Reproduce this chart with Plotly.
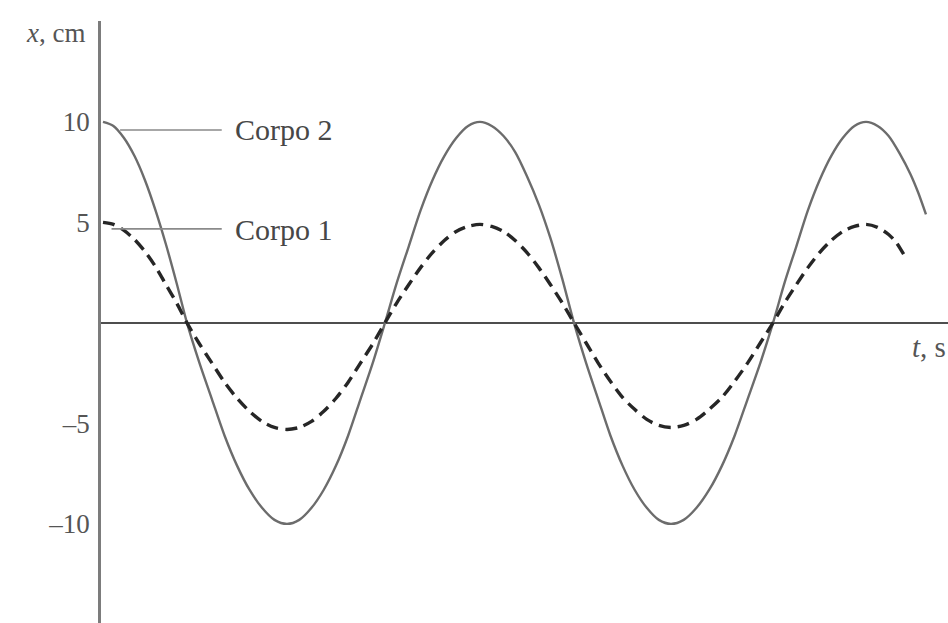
import plotly.graph_objects as go

# Time samples (s) and displacement (cm)
t_corpo2 = [0.0, 0.11, 0.221, 0.332, 0.442, 0.553, 0.663, 0.774, 0.884,
            1.016, 1.147, 1.279, 1.411, 1.542, 1.674, 1.805, 1.937,
            2.066, 2.195, 2.324, 2.453, 2.581, 2.710, 2.839, 2.968,
            3.093, 3.218, 3.343, 3.468, 3.593, 3.718, 3.843, 3.968,
            4.092, 4.216, 4.339, 4.463, 4.587, 4.711, 4.834, 4.958,
            5.086, 5.213, 5.341, 5.469, 5.596, 5.724, 5.851, 5.979,
            6.113, 6.248, 6.382, 6.516, 6.650, 6.785, 6.919, 7.053,
            7.175, 7.298, 7.420, 7.543, 7.665, 7.787, 7.910, 8.032,
            8.154, 8.27, 8.39, 8.5, 8.58, 8.663]
x_corpo2 = [10.0, 9.8, 9.2, 8.3, 7.1, 5.6, 3.9, 2.0, 0.0,
            -2.0, -3.8, -5.6, -7.1, -8.3, -9.2, -9.8, -10.0,
            -9.8, -9.2, -8.3, -7.1, -5.6, -3.8, -2.0, 0.0,
            2.0, 3.8, 5.6, 7.1, 8.3, 9.2, 9.8, 10.0,
            9.8, 9.3, 8.5, 7.3, 5.9, 4.2, 2.2, 0.0,
            -2.0, -3.8, -5.6, -7.1, -8.3, -9.2, -9.8, -10.0,
            -9.8, -9.2, -8.3, -7.1, -5.6, -3.8, -2.0, 0.0,
            2.0, 3.8, 5.6, 7.1, 8.3, 9.2, 9.8, 10.0,
            9.8, 9.3, 8.4, 7.4, 6.5, 5.4]

t_corpo1 = [0.0, 0.11, 0.221, 0.332, 0.442, 0.553, 0.663, 0.774, 0.884,
            1.016, 1.147, 1.279, 1.411, 1.542, 1.674, 1.805, 1.937,
            2.066, 2.195, 2.324, 2.453, 2.581, 2.710, 2.839, 2.968,
            3.093, 3.218, 3.343, 3.468, 3.593, 3.718, 3.843, 3.968,
            4.092, 4.216, 4.339, 4.463, 4.587, 4.711, 4.834, 4.958,
            5.086, 5.213, 5.341, 5.469, 5.596, 5.724, 5.851, 5.979,
            6.113, 6.248, 6.382, 6.516, 6.650, 6.785, 6.919, 7.053,
            7.175, 7.298, 7.420, 7.543, 7.665, 7.787, 7.910, 8.032,
            8.154, 8.27, 8.35, 8.43]
x_corpo1 = [5.0, 4.9, 4.6, 4.15, 3.55, 2.8, 1.9, 1.0, 0.0,
            -1.05, -2.0, -2.95, -3.75, -4.4, -4.9, -5.2, -5.3,
            -5.2, -4.9, -4.4, -3.75, -2.95, -2.0, -1.05, 0.0,
            1.0, 1.9, 2.75, 3.5, 4.1, 4.55, 4.8, 4.9,
            4.8, 4.55, 4.1, 3.5, 2.75, 1.9, 1.0, 0.0,
            -1.0, -2.0, -2.9, -3.7, -4.3, -4.8, -5.1, -5.2,
            -5.1, -4.8, -4.3, -3.7, -2.9, -2.0, -1.0, 0.0,
            1.0, 1.9, 2.75, 3.5, 4.1, 4.55, 4.8, 4.9,
            4.75, 4.4, 4.0, 3.4]

y_tick_vals = [-10, -5, 5, 10]
y_tick_text = ["\u201310", "\u20135", "5", "10"]

label_corpo2 = "Corpo 2"
label_corpo1 = "Corpo 1"

SERIF = "Liberation Serif"

fig = go.Figure()
fig.add_trace(go.Scatter(
    x=t_corpo2, y=x_corpo2, mode="lines", name=label_corpo2,
    line=dict(color="#6c6c6c", width=2.4, shape="spline", smoothing=0.8),
    hoverinfo="skip"))
fig.add_trace(go.Scatter(
    x=t_corpo1, y=x_corpo1, mode="lines", name=label_corpo1,
    line=dict(color="#262626", width=3.4, dash="12px,7px", shape="spline", smoothing=0.8),
    hoverinfo="skip"))

# leader lines from each curve to its label
for y_lead, x0 in [(9.6, 0.18), (4.68, 0.09)]:
    fig.add_shape(type="line", xref="x", yref="y", x0=x0, x1=1.25, y0=y_lead, y1=y_lead,
                  line=dict(color="#8a8a8a", width=1.6))

fig.add_annotation(x=1.37, y=9.6, xref="x", yref="y", text=label_corpo2, showarrow=False,
                   xanchor="left", yanchor="middle",
                   font=dict(family=SERIF, size=30, color="#474747"))
fig.add_annotation(x=1.37, y=4.63, xref="x", yref="y", text=label_corpo1, showarrow=False,
                   xanchor="left", yanchor="middle",
                   font=dict(family=SERIF, size=30, color="#474747"))
fig.add_annotation(x=-0.017, y=0.98, xref="paper", yref="paper", text="<i>x</i>, cm",
                   showarrow=False, xanchor="right", yanchor="middle",
                   font=dict(family=SERIF, size=27, color="#555555"))
fig.add_annotation(x=8.5, y=-1.2, xref="x", yref="y", text="<i>t</i>, s", showarrow=False,
                   xanchor="left", yanchor="middle",
                   font=dict(family=SERIF, size=29, color="#555555"))

fig.update_layout(
    width=948, height=623,
    margin=dict(l=101, r=0, t=21, b=0),
    paper_bgcolor="white", plot_bgcolor="white",
    showlegend=False,
    xaxis=dict(range=[-0.021, 8.895], showgrid=False, zeroline=False,
               showticklabels=False, ticks="", showline=False),
    yaxis=dict(range=[-14.93, 15.02], showgrid=False,
               zeroline=True, zerolinecolor="#4e4e4e", zerolinewidth=2,
               showline=True, linecolor="#7c7c7c", linewidth=2.5,
               tickmode="array", tickvals=y_tick_vals, ticktext=y_tick_text,
               ticks="", ticklabelstandoff=3,
               tickfont=dict(family=SERIF, size=27, color="#555555")),
)

fig.write_html("out.html")
